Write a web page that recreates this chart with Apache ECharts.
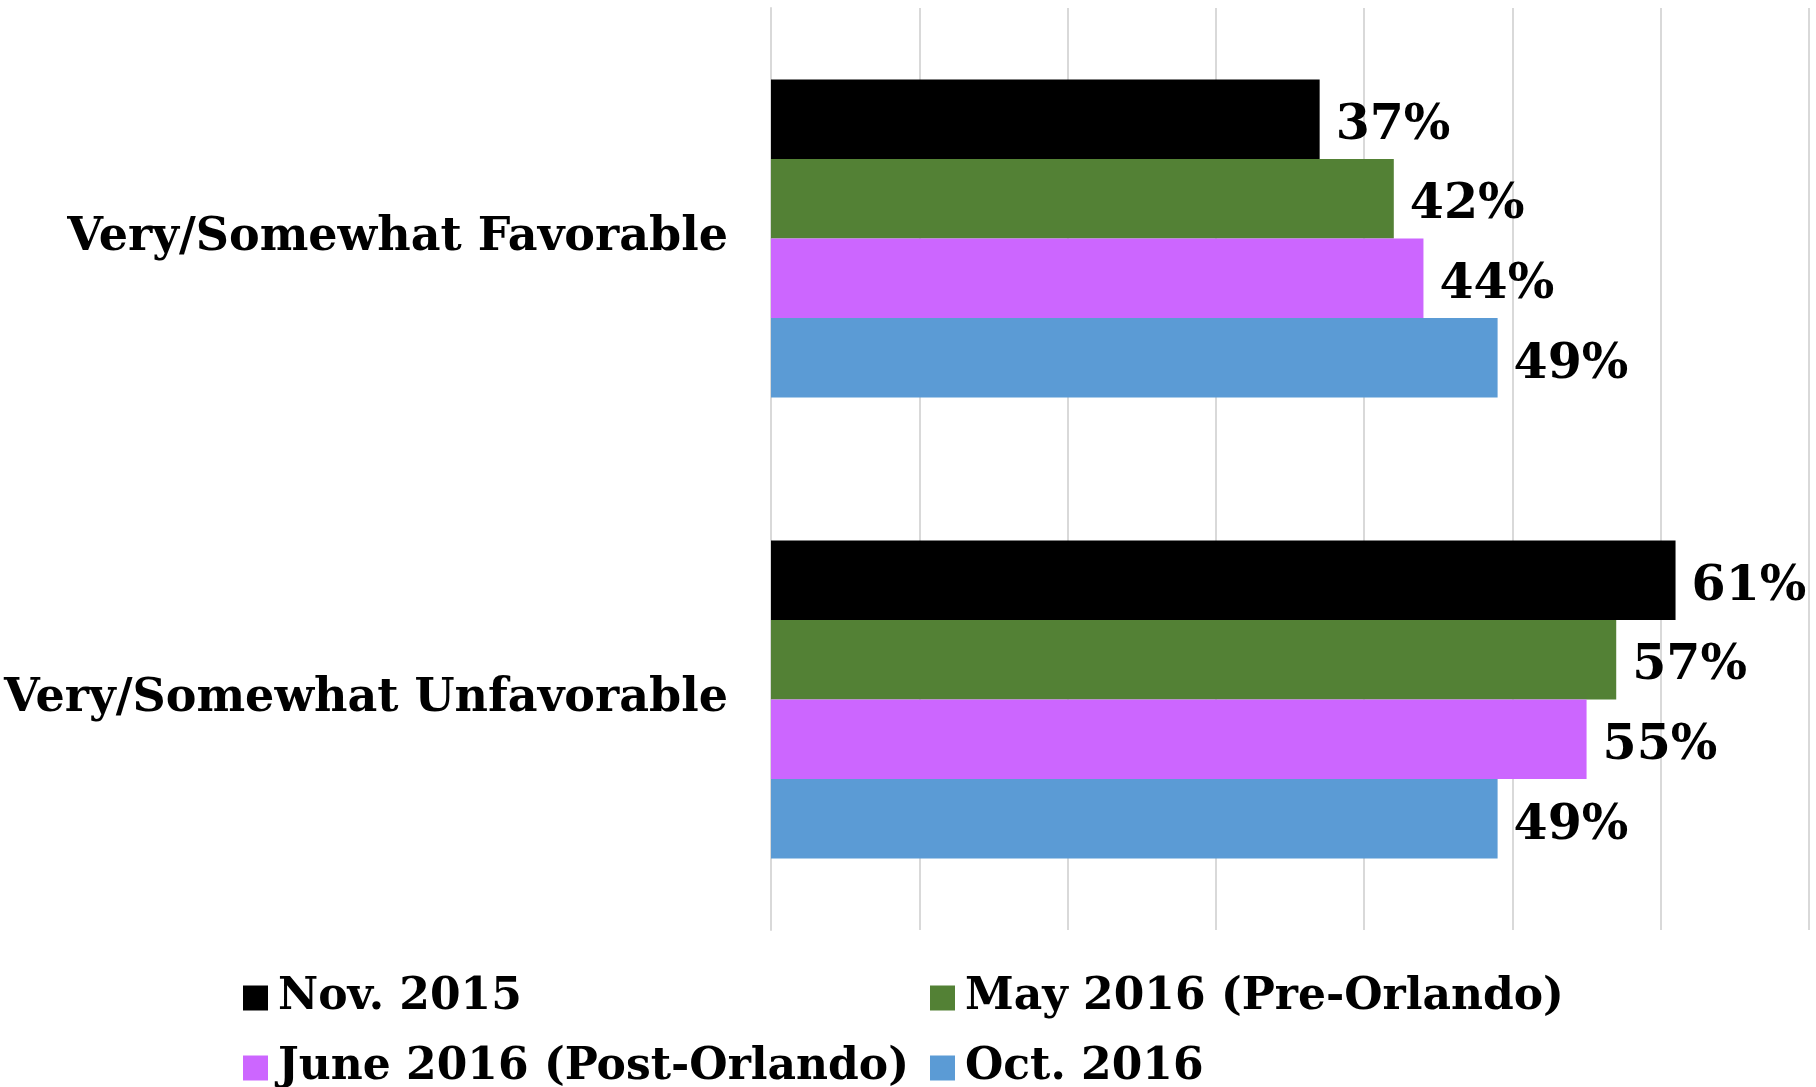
<!DOCTYPE html>
<html>
<head>
<meta charset="utf-8">
<script src="https://cdn.jsdelivr.net/npm/echarts@6/dist/echarts.min.js"></script>
<style>html,body{margin:0;padding:0;background:#fff}#c{width:1816px;height:1087px}</style>
</head>
<body>
<div id="c"></div>
<script>
var categories = ['Very/Somewhat Favorable', 'Very/Somewhat Unfavorable'];
var seriesNames = ['Nov. 2015', 'May 2016 (Pre-Orlando)', 'June 2016 (Post-Orlando)', 'Oct. 2016'];
var nov2015 = [37, 61];
var may2016 = [42, 57];
var june2016 = [44, 55];
var oct2016 = [49, 49];
var colors = ['#000000', '#538135', '#CC66FF', '#5B9BD5'];

var FONT = '"DejaVu Serif", "Liberation Serif", serif';
var values = [nov2015, may2016, june2016, oct2016];
var legendPos = [[243, 973], [930, 973], [243, 1043], [930, 1043]];

var chart = echarts.init(document.getElementById('c'));
chart.setOption({
  animation: false,
  backgroundColor: '#ffffff',
  grid: { left: 771, right: 7, top: 8, bottom: 157, containLabel: false },
  xAxis: {
    type: 'value', min: 0, max: 70, interval: 10,
    axisLabel: { show: false },
    axisLine: { show: false },
    axisTick: { show: false },
    splitLine: { show: true, lineStyle: { color: '#d9d9d9', width: 2 } }
  },
  yAxis: {
    type: 'category', data: categories, inverse: true,
    axisLine: { show: true, lineStyle: { color: '#d9d9d9', width: 2 } },
    axisTick: { show: false },
    axisLabel: { margin: 43, color: '#000', fontFamily: FONT, fontWeight: 'bold', fontSize: 46, padding: [6, 0, 0, 0] }
  },
  legend: seriesNames.map(function (n, i) {
    return {
      data: [n], orient: 'horizontal', left: legendPos[i][0], top: legendPos[i][1],
      itemWidth: 25, itemHeight: 25, icon: 'rect', padding: 0,
      textStyle: { fontFamily: FONT, fontWeight: 'bold', fontSize: 44, lineHeight: 50, color: '#000', padding: [0, 0, 0, 5] }
    };
  }),
  series: seriesNames.map(function (n, i) {
    return {
      name: n, type: 'bar', data: values[i],
      barCategoryGap: '31%', barGap: '0%',
      itemStyle: { color: colors[i] },
      label: {
        show: true, position: 'right', distance: 16, offset: [0, 7],
        formatter: '{c}%', color: '#000', fontFamily: FONT, fontWeight: 'bold', fontSize: 49
      }
    };
  })
});
</script>
</body>
</html>
